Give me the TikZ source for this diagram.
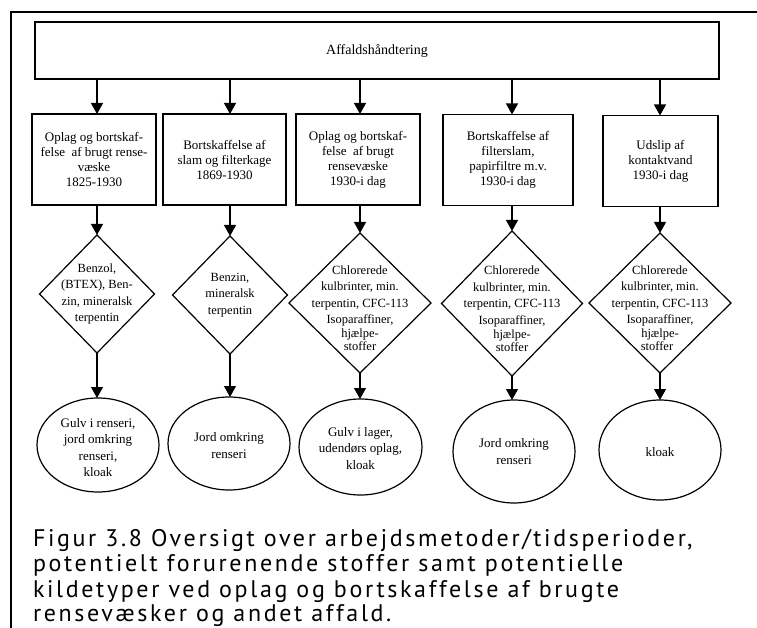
\documentclass[tikz,border=0pt]{standalone}
\usepackage{fontspec}
\setmainfont{Liberation Serif}
\newfontfamily\capfont[LetterSpace=11]{PT Sans}
\usetikzlibrary{shapes.geometric,arrows.meta}
\begin{document}
\begin{tikzpicture}[x=1pt,y=-1pt,
  every node/.style={inner sep=0pt, outer sep=0pt},
  box/.style={draw, line width=1.2pt, align=center, font=\fontsize{13}{15}\selectfont},
  dia/.style={draw, diamond, line width=1.2pt, aspect=1},
  dtext/.style={align=center, font=\fontsize{12.5}{16.5}\selectfont},
  ell/.style={draw, ellipse, line width=1.2pt},
  etext/.style={align=center, font=\fontsize{13}{16.5}\selectfont},
  flow/.style={line width=1.2pt, -{Triangle[width=12pt,length=11pt]}},
  captext/.style={anchor=base west, font=\capfont\fontsize{24}{27}\selectfont}
]
\useasboundingbox (0,0) rectangle (757,628);

% outer frame (open to the right and below)
\draw[line width=2.2pt] (11,628) -- (11,12) -- (757,12);

% top box
\node[box, minimum width=684pt, minimum height=57pt, font=\fontsize{14}{16}\selectfont]
  (top) at (377,50.5) {Affaldshåndtering};

% second row: activities
\node[box, minimum width=124pt, minimum height=91pt] (b1) at (94,159.5)
  {Oplag og bortskaf-\\felse\ \ af brugt rense-\\væske\\1825-1930};
\node[box, minimum width=123pt, minimum height=91pt] (b2) at (224.5,159.5)
  {Bortskaffelse af\\slam og filterkage\\1869-1930};
\node[box, minimum width=124pt, minimum height=91pt] (b3) at (358,159.5)
  {Oplag og bortskaf-\\felse\ \ af brugt\\rensevæske\\1930-i dag};
\node[box, minimum width=130pt, minimum height=91pt] (b4) at (508,160)
  {Bortskaffelse af\\filterslam,\\papirfiltre m.v.\\1930-i dag};
\node[box, minimum width=115pt, minimum height=91pt] (b5) at (660.5,161)
  {Udslip af\\kontaktvand\\1930-i dag};

% third row: substances
\node[dia, minimum width=115pt, minimum height=118pt,
  label={[dtext]center:{Benzol,\\(BTEX), Ben-\\zin, mineralsk\\terpentin}}]
  (d1) at (97,294) {};
\node[dia, minimum width=115pt, minimum height=118pt,
  label={[dtext]center:{Benzin,\\mineralsk\\terpentin}}]
  (d2) at (230,295) {};
\node[dia, minimum width=142pt, minimum height=140pt,
  label={[dtext, yshift=-5pt]center:{Chlorerede\\kulbrinter, min.\\terpentin, CFC-113\\Isoparaffiner,\\[-2.5pt]hjælpe-\\[-3.5pt]stoffer}}]
  (d3) at (360,303) {};
\node[dia, minimum width=141pt, minimum height=145pt,
  label={[dtext, yshift=-5pt]center:{Chlorerede\\kulbrinter, min.\\terpentin, CFC-113\\Isoparaffiner,\\[-2.5pt]hjælpe-\hspace*{50pt}\\[-3.5pt]stoffer}}]
  (d4) at (512,303.5) {};
\node[dia, minimum width=142pt, minimum height=140pt,
  label={[dtext, yshift=-5pt]center:{Chlorerede\\kulbrinter, min.\\terpentin, CFC-113\\Isoparaffiner,\\[-2.5pt]hjælpe-\hspace*{22pt}\\[-3.5pt]stoffer\hspace*{6pt}}}]
  (d5) at (660,303) {};

% fourth row: source types
\node[ell, minimum width=122pt, minimum height=94pt,
  label={[etext, yshift=-2.5pt]center:{Gulv i renseri,\\jord omkring\\renseri,\\kloak}}]
  (e1) at (98,445) {};
\node[ell, minimum width=122pt, minimum height=93pt,
  label={[etext, yshift=-2pt]center:{Jord omkring\\renseri}}]
  (e2) at (229,443.5) {};
\node[ell, minimum width=123pt, minimum height=96pt,
  label={[etext, yshift=-1.5pt]center:{Gulv i lager,\\udendørs oplag,\\kloak}}]
  (e3) at (360.5,447) {};
\node[ell, minimum width=122pt, minimum height=103pt,
  label={[etext]center:{Jord omkring\\renseri}}]
  (e4) at (514,451.5) {};
\node[ell, minimum width=122pt, minimum height=100pt,
  label={[etext, yshift=-2pt]center:{kloak}}]
  (e5) at (660,450) {};

% connectors
\foreach \i in {1,...,5}{
  \draw[flow] (top.south -| d\i.north) -- (b\i.north -| d\i.north);
  \draw[flow] (b\i.south -| d\i.north) -- (d\i.north);
  \draw[flow] (d\i.south) -- (e\i.north -| d\i.south);
}

% caption
\node[captext] (cap1) at (33,546) {Figur 3.8 Oversigt over arbejdsmetoder/tidsperioder,};
\node[captext] (cap2) at (33,571.5) {potentielt forurenende stoffer samt potentielle};
\node[captext] (cap3) at (33,597) {kildetyper ved oplag og bortskaffelse af brugte};
\node[captext] (cap4) at (33,621.5) {rensevæsker og andet affald.};
\end{tikzpicture}
\end{document}
